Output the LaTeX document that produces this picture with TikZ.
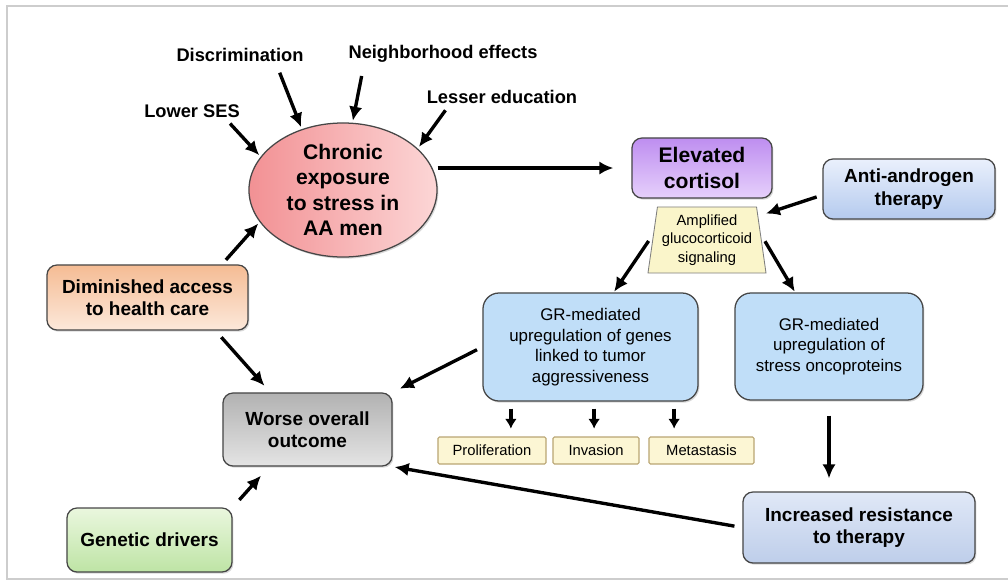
\documentclass[tikz,border=0pt]{standalone}
\usepackage{fontspec}
\setmainfont{Liberation Sans}
\usepackage{xcolor}
\usepackage{tikz}
\usetikzlibrary{shapes,arrows.meta,positioning,calc,shadows}
\definecolor{framegray}{RGB}{205, 205, 205}
\definecolor{edgegray}{RGB}{70, 70, 70}
\definecolor{stressred}{RGB}{242, 145, 148}
\definecolor{stresspink}{RGB}{252, 214, 214}
\definecolor{cortisoldark}{RGB}{190, 142, 240}
\definecolor{cortisollight}{RGB}{230, 208, 251}
\definecolor{therapytop}{RGB}{234, 240, 252}
\definecolor{therapybottom}{RGB}{180, 202, 238}
\definecolor{signalyellow}{RGB}{250, 245, 202}
\definecolor{grblue}{RGB}{192, 222, 248}
\definecolor{tagyellow}{RGB}{252, 246, 212}
\definecolor{tagedge}{RGB}{185, 165, 115}
\definecolor{accessorange}{RGB}{245, 188, 148}
\definecolor{accesslight}{RGB}{252, 232, 218}
\definecolor{outcomedark}{RGB}{178, 178, 178}
\definecolor{outcomelight}{RGB}{228, 228, 228}
\definecolor{geneticlight}{RGB}{234, 247, 222}
\definecolor{geneticgreen}{RGB}{190, 228, 165}
\definecolor{resisttop}{RGB}{224, 232, 247}
\definecolor{resistbottom}{RGB}{190, 206, 234}

\begin{document}
\begin{tikzpicture}[x=0.025cm, y=-0.025cm,
    factor/.style={font=\fontsize{13}{15}\selectfont\bfseries, inner sep=1pt},
    box/.style={draw=edgegray, line width=0.9pt, rounded corners=0.25cm, align=center,
        font=\fontsize{13.5}{16}\selectfont\bfseries,
        drop shadow={shadow xshift=1pt, shadow yshift=-1.2pt, opacity=0.3}},
    grbox/.style={draw=edgegray, line width=0.9pt, rounded corners=0.4cm, fill=grblue, align=center,
        font=\fontsize{12}{14.6}\selectfont,
        drop shadow={shadow xshift=1pt, shadow yshift=-1.2pt, opacity=0.3}},
    tag/.style={draw=tagedge, line width=0.8pt, fill=tagyellow, rounded corners=1pt,
        font=\fontsize{10.5}{12}\selectfont, minimum height=0.675cm},
    arr/.style={-{Latex[length=10pt,width=9.5pt]}, line width=2.4pt},
    sarr/.style={-{Latex[length=7pt,width=8.5pt]}, line width=2.6pt}]
    \useasboundingbox (0,0) rectangle (1008,581);
    \draw[framegray, line width=1.2pt] (1008,6) -- (7,6) -- (7,579) -- (1008,579);

    % Stress factors
    \node[factor] (disc) at (240,55) {Discrimination};
    \node[factor] (neigh) at (443,54) {Neighborhood effects};
    \node[factor] (lower) at (192,111) {Lower SES};
    \node[factor] (lesser) at (502,97) {Lesser education};

    % Chronic stress
    \node[ellipse, draw=edgegray, line width=0.9pt, left color=stressred, right color=stresspink,
        minimum width=4.7cm, minimum height=3.35cm, inner sep=0pt,
        drop shadow={shadow xshift=1pt, shadow yshift=-1.2pt, opacity=0.3}] (chronic) at (343,190) {};
    \node[align=center, font=\fontsize{15}{18.2}\selectfont\bfseries] (chronictext) at (chronic.center)
        {Chronic\\exposure\\to stress in\\AA men};

    % Cortisol and signaling
    \node[box, font=\fontsize{15}{18.4}\selectfont\bfseries, top color=cortisoldark, bottom color=cortisollight,
        minimum width=3.5cm, minimum height=1.5cm] (cortisol) at (702,168) {Elevated\\cortisol};
    \node[box, top color=therapytop, bottom color=therapybottom,
        minimum width=4.3cm, minimum height=1.5cm] (anti) at (909,189) {Anti-androgen\\therapy};
    \node[trapezium, trapezium left angle=80, trapezium right angle=80, trapezium stretches body,
        draw=edgegray!70, line width=0.6pt, fill=signalyellow, align=center, inner sep=1pt,
        minimum width=2.95cm, minimum height=1.65cm,
        font=\fontsize{10.5}{13.2}\selectfont] (signal) at (707,240) {Amplified\\glucocorticoid\\signaling};

    % GR-mediated effects
    \node[grbox, minimum width=5.375cm, minimum height=2.7cm] (gr1) at (590.5,347)
        {GR-mediated\\upregulation of genes\\linked to tumor\\aggressiveness};
    \node[grbox, minimum width=4.7cm, minimum height=2.675cm] (gr2) at (829,346.5)
        {GR-mediated\\upregulation of\\stress oncoproteins};
    \node[tag, minimum width=2.7cm] (prolif) at (492,450.5) {Proliferation};
    \node[tag, minimum width=2.15cm] (invas) at (596,450.5) {Invasion};
    \node[tag, minimum width=2.625cm] (meta) at (701.5,450.5) {Metastasis};

    % Outcome side
    \node[box, top color=accessorange, bottom color=accesslight,
        minimum width=5.025cm, minimum height=1.625cm] (access) at (147.5,297.5) {Diminished access\\to health care};
    \node[box, top color=outcomedark, bottom color=outcomelight,
        minimum width=4.225cm, minimum height=1.825cm] (worse) at (307.5,429.5) {Worse overall\\outcome};
    \node[box, top color=geneticlight, bottom color=geneticgreen,
        minimum width=4.125cm, minimum height=1.6cm] (genetic) at (149.5,540) {Genetic drivers};
    \node[box, top color=resisttop, bottom color=resistbottom,
        minimum width=5.8cm, minimum height=1.775cm] (resist) at (859,527.5) {Increased resistance\\to therapy};

    % Connectors
    \draw[arr, shorten <=0.25cm, shorten >=0.05cm] ([xshift=0.9cm]disc.south) -- (chronic.124);
    \draw[arr, shorten <=0.3cm, shorten >=0.05cm] ([xshift=-1.975cm]neigh.south) -- (chronic.82);
    \draw[arr, shorten <=0.15cm, shorten >=0.05cm] ([xshift=0.85cm]lower.south) -- (chronic.158);
    \draw[arr, shorten <=0.15cm, shorten >=0.05cm] ([xshift=-1.325cm]lesser.south) -- (chronic.29);
    \draw[arr, shorten <=0.15cm, shorten >=0.05cm] (access.24) -- (chronic.201);
    \draw[arr, shorten >=0.45cm] (chronic.east |- cortisol.west) -- (cortisol.west);
    \draw[arr, shorten <=0.15cm, shorten >=0.2cm] (anti.184) -- (signal.25);
    \draw[arr, shorten <=0.2cm, shorten >=0.02cm] (signal.174) -- (gr1.67);
    \draw[arr, shorten <=0.2cm, shorten >=0.02cm] (signal.6) -- (gr2.122);
    \foreach \dx in {-1.99,0.09,2.09}
        \draw[sarr] ([xshift=\dx cm, yshift=-0.175cm]gr1.south) -- ++(0,20);
    \draw[arr, shorten <=0.375cm, shorten >=0.325cm] (gr2.south) -- (gr2.south |- resist.north);
    \draw[arr, shorten <=0.15cm, shorten >=0.2cm] (gr1.west) -- (worse.north east);
    \draw[arr, shorten <=0.22cm, shorten >=0.22cm] (access.-26) -- (worse.135);
    \draw[arr, shorten <=0.25cm, shorten >=0.3cm] (genetic.north east) -- (worse.224);
    \draw[arr, shorten <=0.2cm, shorten >=0.05cm] (resist.west) -- (worse.south east);
\end{tikzpicture}
\end{document}
